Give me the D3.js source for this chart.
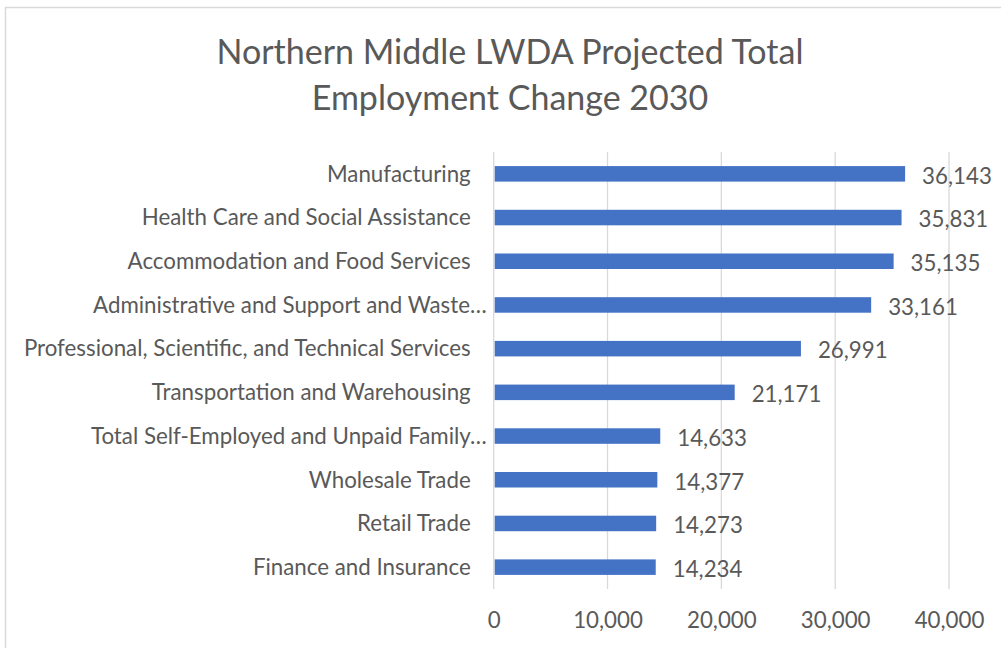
<!DOCTYPE html>
<html>
<head>
<meta charset="utf-8">
<script src="https://cdn.jsdelivr.net/npm/d3@7"></script>
<style>
  html, body { margin: 0; padding: 0; background: #fff; }
  svg { display: block; }
  text { font-family: Lato, "Open Sans", sans-serif; fill: #595959; }
</style>
</head>
<body>
<svg id="chart" width="1001" height="648"></svg>
<script>
// Industry categories, top to bottom
const industries = [
  "Manufacturing",
  "Health Care and Social Assistance",
  "Accommodation and Food Services",
  "Administrative and Support and Waste…",
  "Professional, Scientific, and Technical Services",
  "Transportation and Warehousing",
  "Total Self-Employed and Unpaid Family…",
  "Wholesale Trade",
  "Retail Trade",
  "Finance and Insurance"
];
// Projected total employment, 2030
const employment = [36143, 35831, 35135, 33161, 26991, 21171, 14633, 14377, 14273, 14234];
// Value axis ticks
const xTicks = [0, 10000, 20000, 30000, 40000];
const titleLines = ["Northern Middle LWDA Projected Total", "Employment Change 2030"];

const data = industries.map((name, i) => ({ name, value: employment[i] }));

const svg = d3.select("#chart");
const fmt = d3.format(",");
const labelSize = "22.3px";

// Chart frame
svg.append("rect")
  .attr("x", 5.5).attr("y", 7.5)
  .attr("width", 1100).attr("height", 700)
  .attr("fill", "none")
  .attr("stroke", "#d9d9d9")
  .attr("stroke-width", 1.5);

// Title
svg.append("text")
  .attr("x", 510)
  .attr("text-anchor", "middle")
  .style("font-size", "34px")
  .selectAll("tspan")
  .data(titleLines)
  .join("tspan")
  .attr("x", 510)
  .attr("y", (d, i) => 64 + i * 46)
  .text(d => d);

const plot = { left: 493.7, right: 949, top: 152, bottom: 589 };

const x = d3.scaleLinear()
  .domain([xTicks[0], xTicks[xTicks.length - 1]])
  .range([plot.left, plot.right]);

const y = d3.scaleBand()
  .domain(industries)
  .range([plot.top, plot.bottom])
  .paddingInner(0.645)
  .paddingOuter(0.3225);

// Vertical gridlines
svg.append("g")
  .selectAll("line")
  .data(xTicks)
  .join("line")
  .attr("x1", d => x(d)).attr("x2", d => x(d))
  .attr("y1", plot.top).attr("y2", plot.bottom)
  .attr("stroke", "#d9d9d9")
  .attr("stroke-width", 1.3);

// Value axis labels
const xAxis = d3.axisBottom(x)
  .tickValues(xTicks)
  .tickFormat(fmt)
  .tickSize(0)
  .tickPadding(0);

const gx = svg.append("g")
  .attr("transform", `translate(0,${plot.bottom})`)
  .call(xAxis);
gx.select(".domain").remove();
gx.selectAll("text")
  .attr("dy", null)
  .attr("y", 39)
  .style("font-size", labelSize)
  .style("font-family", "Lato, sans-serif")
  .attr("fill", "#595959");

// Category labels
const yAxis = d3.axisLeft(y).tickSize(0).tickPadding(0);
const gy = svg.append("g")
  .attr("transform", `translate(${plot.left},0)`)
  .call(yAxis);
gy.select(".domain").remove();
gy.selectAll("text")
  .attr("x", d => d.endsWith("…") ? -7 : -23)
  .attr("dy", "0.35em")
  .style("font-size", labelSize)
  .style("font-family", "Lato, sans-serif")
  .attr("fill", "#595959");

// Bars
svg.append("g")
  .selectAll("rect")
  .data(data)
  .join("rect")
  .attr("x", x(0) + 1)
  .attr("y", d => y(d.name))
  .attr("width", d => x(d.value) - x(0) - 1)
  .attr("height", y.bandwidth())
  .attr("fill", "#4472c4");

// Value labels
svg.append("g")
  .selectAll("text")
  .data(data)
  .join("text")
  .attr("x", d => x(d.value) + 17)
  .attr("y", d => y(d.name) + y.bandwidth() / 2 + 2)
  .attr("dy", "0.35em")
  .style("font-size", labelSize)
  .text(d => fmt(d.value));
</script>
</body>
</html>
